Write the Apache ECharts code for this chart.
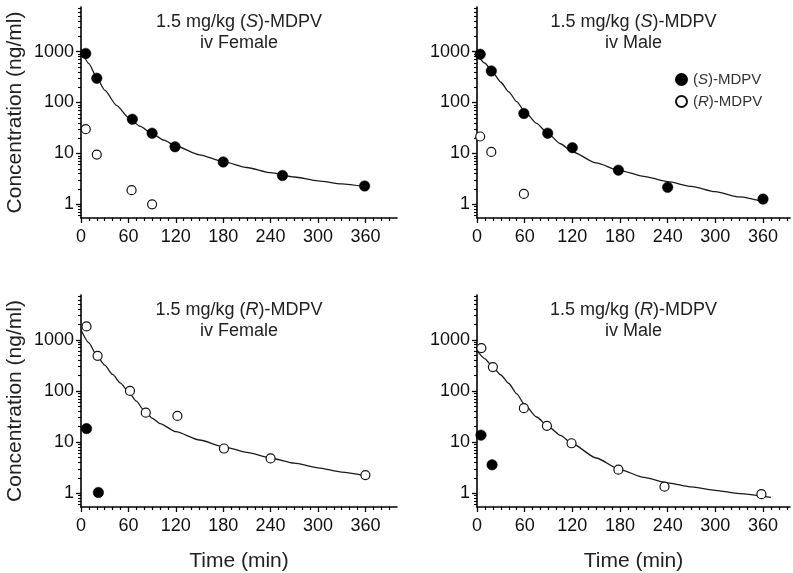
<!DOCTYPE html>
<html>
<head>
<meta charset="utf-8">
<script src="https://cdn.jsdelivr.net/npm/echarts@6/dist/echarts.min.js"></script>
<style>
html,body{margin:0;padding:0;background:#fff;}
#chart{width:793px;height:573px;}
</style>
</head>
<body>
<div id="chart"></div>
<script>
// ---------- data ----------
// Panel 1: 1.5 mg/kg (S)-MDPV, iv Female
var p1_S = [[6,920],[20,300],[65,47],[90,25],[119,13.5],[180,6.8],[255,3.7],[359,2.3]];
var p1_R = [[6,30],[20,9.5],[64,1.9],[90,1.0]];
var p1_fit = [[0,1150],[10,580],[20,305],[30,175],[45,88],[60,51],[75,34],[90,24.5],[105,18.2],[120,14],[150,9.4],[180,6.9],[210,5.3],[240,4.2],[270,3.45],[300,2.9],[330,2.53],[360,2.22]];
// Panel 2: 1.5 mg/kg (S)-MDPV, iv Male
var p2_S = [[4,887],[18,417],[59,61],[89,25],[120,13],[178,4.7],[240,2.16],[360,1.27]];
var p2_R = [[4,21.5],[18,10.7],[59,1.6]];
var p2_fit = [[0,880],[10,590],[20,385],[30,250],[40,162],[50,104],[60,67],[75,39],[90,24],[105,15.5],[120,10.8],[150,6.5],[180,4.6],[210,3.55],[240,2.8],[270,2.25],[300,1.78],[330,1.4],[365,1.08]];
// Panel 3: 1.5 mg/kg (R)-MDPV, iv Female
var p3_S = [[7,18.4],[22,1.04]];
var p3_R = [[7,1820],[21,486],[62,100],[82,37.7],[122,32.5],[181,7.5],[240,4.8],[360,2.27]];
var p3_fit = [[0,1570],[10,870],[20,490],[30,320],[40,210],[50,142],[60,97],[70,63],[80,41],[90,29.5],[100,23],[120,16],[150,11],[180,8.2],[210,6.3],[240,4.9],[270,3.9],[300,3.15],[330,2.6],[360,2.2]];
// Panel 4: 1.5 mg/kg (R)-MDPV, iv Male
var p4_S = [[5,13.7],[19,3.6]];
var p4_R = [[5.5,690],[20,293],[59,46],[88,20.8],[119,9.5],[178,2.9],[236,1.35],[358,0.96]];
var p4_fit = [[0,620],[10,425],[20,292],[30,205],[40,140],[50,88],[60,54],[75,31],[90,20],[105,13.5],[120,9.3],[150,4.9],[180,2.9],[210,2.05],[240,1.6],[270,1.33],[300,1.14],[330,0.99],[370,0.83]];

var xMajor = [0,60,120,180,240,300,360];
var xMinor = [10,20,30,40,50,70,80,90,100,110,130,140,150,160,170,190,200,210,220,230,250,260,270,280,290,310,320,330,340,350,370,380,390];
var yMajor = [1,10,100,1000];
var yMinor = [0.6,0.7,0.8,0.9,2,3,4,5,6,7,8,9,20,30,40,50,60,70,80,90,200,300,400,500,600,700,800,900,2000,3000,4000,5000,6000,7000];

var titles = [
  ['1.5 mg/kg ({i|S})-MDPV','iv Female'],
  ['1.5 mg/kg ({i|S})-MDPV','iv Male'],
  ['1.5 mg/kg ({i|R})-MDPV','iv Female'],
  ['1.5 mg/kg ({i|R})-MDPV','iv Male']
];
var nameS = '(S)-MDPV', nameR = '(R)-MDPV';

// ---------- layout ----------
var FONT = '"Liberation Sans", Arial, sans-serif';
var grids = [
  {left:81, top:7, width:316, height:211},
  {left:477, top:7, width:313, height:211},
  {left:81, top:295, width:316, height:212},
  {left:477, top:295, width:313, height:212}
];
var xMax = [400, 394, 400, 394];
var Y_MIN = 0.54, Y_MAX = 7500;

var option = {
  animation:false,
  backgroundColor:'#fff',
  textStyle:{fontFamily:FONT},
  grid: grids.map(function(g){ return Object.assign({outerBoundsMode:'none', containLabel:false}, g); }),
  xAxis: [], yAxis: [], series: [], graphic: [],
  legend: {
    data:[nameS, nameR],
    orient:'vertical', left:670, top:67, itemGap:7,
    itemWidth:11, itemHeight:11, icon:'circle',
    formatter:function(n){ return n.replace(/\((S|R)\)/, '({i|$1})'); },
    textStyle:{fontFamily:FONT, fontSize:15, color:'#333', padding:[0,0,0,1],
      rich:{i:{fontStyle:'italic', fontFamily:FONT, fontSize:15, color:'#333'}}}
  }
};

function fmt(v){ return String(Math.round(v * 100) / 100); }

function addPanel(i, S, R, fit){
  var g = grids[i];
  var bottom = i >= 2, left = (i % 2) === 0;
  var xi = option.xAxis.length, yi = option.yAxis.length;
  option.xAxis.push({
    type:'value', gridIndex:i, position:'bottom', min:0, max:xMax[i], interval:60,
    axisLine:{show:true, onZero:false, lineStyle:{color:'#000', width:1.6}},
    axisTick:{show:true, inside:false, length:5, customValues:xMajor, lineStyle:{color:'#000', width:1.3}},
    axisLabel:{show:true, customValues:xMajor, margin:10, fontSize:18, color:'#111', fontFamily:FONT, formatter:fmt},
    splitLine:{show:false},
    name: bottom ? 'Time (min)' : '', nameLocation:'middle', nameGap:44,
    nameTextStyle:{fontSize:21, color:'#222', fontFamily:FONT}
  });
  option.xAxis.push({
    type:'value', gridIndex:i, position:'bottom', min:0, max:xMax[i], interval:60,
    axisLine:{show:false, onZero:false},
    axisTick:{show:true, inside:false, length:3, customValues:xMinor, lineStyle:{color:'#000', width:1.2}},
    axisLabel:{show:false}, splitLine:{show:false}
  });
  option.yAxis.push({
    type:'log', logBase:10, gridIndex:i, position:'left', min:Y_MIN, max:Y_MAX,
    axisLine:{show:true, onZero:false, lineStyle:{color:'#000', width:1.6}},
    axisTick:{show:true, inside:false, length:5, customValues:yMajor, lineStyle:{color:'#000', width:1.3}},
    axisLabel:{show:true, customValues:yMajor, margin:7, fontSize:18, color:'#111', fontFamily:FONT, formatter:fmt},
    splitLine:{show:false}, minorTick:{show:false},
    name: left ? 'Concentration (ng/ml)' : '', nameLocation:'middle', nameGap:55,
    nameTextStyle:{fontSize:21, color:'#222', fontFamily:FONT}
  });
  option.yAxis.push({
    type:'log', logBase:10, gridIndex:i, position:'left', min:Y_MIN, max:Y_MAX,
    axisLine:{show:false, onZero:false},
    axisTick:{show:true, inside:false, length:3, customValues:yMinor, lineStyle:{color:'#000', width:1.1}},
    axisLabel:{show:false}, splitLine:{show:false}
  });
  option.series.push({
    type:'line', name:'fit', xAxisIndex:xi, yAxisIndex:yi, data:fit,
    smooth:0.22, smoothMonotone:'x', showSymbol:false, symbol:'none',
    lineStyle:{color:'#1a1a1a', width:1.3}, z:2, silent:true
  });
  option.series.push({
    type:'scatter', name:nameS, xAxisIndex:xi, yAxisIndex:yi, data:S,
    symbol:'circle', symbolSize:10.5, itemStyle:{color:'#000', borderColor:'#000', borderWidth:0.5, opacity:1}, z:3
  });
  option.series.push({
    type:'scatter', name:nameR, xAxisIndex:xi, yAxisIndex:yi, data:R,
    symbol:'circle', symbolSize:9, itemStyle:{color:'#fff', borderColor:'#111', borderWidth:1.2, opacity:1}, z:3
  });
  var cx = g.left + g.width/2;
  var ty = g.top + 15;
  option.graphic.push({
    type:'text', x:cx, y:ty, z:10,
    style:{text:titles[i][0], align:'center', verticalAlign:'middle', fontSize:18, fontFamily:FONT, fill:'#222',
      rich:{i:{fontStyle:'italic', fontSize:18, fontFamily:FONT, fill:'#222', color:'#222'}}}
  });
  option.graphic.push({
    type:'text', x:cx, y:ty+21, z:10,
    style:{text:titles[i][1], align:'center', verticalAlign:'middle', fontSize:18, fontFamily:FONT, fill:'#222'}
  });
}

addPanel(0, p1_S, p1_R, p1_fit);
addPanel(1, p2_S, p2_R, p2_fit);
addPanel(2, p3_S, p3_R, p3_fit);
addPanel(3, p4_S, p4_R, p4_fit);

var chart = echarts.init(document.getElementById('chart'), null, {renderer:'canvas'});
chart.setOption(option);
</script>
</body>
</html>
